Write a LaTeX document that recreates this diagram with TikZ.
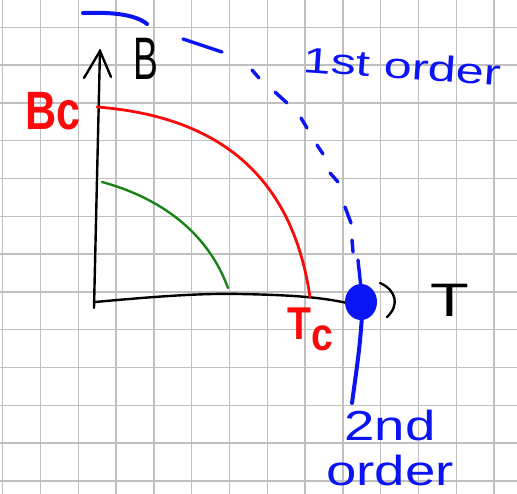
\documentclass[tikz,border=0pt]{standalone}
\usepackage{fontspec}
\setmainfont{Liberation Sans}
\definecolor{penblue}{RGB}{10,20,245}
\definecolor{penred}{RGB}{250,10,10}
\definecolor{pengreen}{RGB}{25,130,25}
\definecolor{gridgray}{RGB}{192,192,192}
\tikzset{
  gridline/.style={draw=gridgray,line width=1.3pt},
  blackpen/.style={draw=black,line width=2.4pt,line cap=round,line join=round},
  redpen/.style={draw=penred,line width=2.8pt,line cap=round},
  greenpen/.style={draw=pengreen,line width=2.4pt,line cap=round},
  bluepen/.style={draw=penblue,line width=3.4pt,line cap=round},
  lbl/.style={inner sep=0pt,anchor=base west},
}
\begin{document}
\begin{tikzpicture}[x=1pt,y=-1pt]
\useasboundingbox (0,0) rectangle (517,494);
\fill[white] (0,0) rectangle (517,494);
% grid
\foreach \i in {0,...,13} \draw[gridline] (2.7+37.8*\i,0) -- ++(0,494);
\foreach \j in {-1,...,12} \draw[gridline] (0,27.3+37.8*\j) -- ++(517,0);
% axes
\draw[blackpen] (94,308) -- (100,50);
\draw[blackpen] (84,78) -- (100,51) -- (111,77);
\draw[blackpen] (95,302) .. controls (150,297) and (200,293) .. (240,294) .. controls (290,295) and (320,297) .. (347,303);
\draw[blackpen] (380,283) .. controls (396,290) and (400,305) .. (387,317);
% curves
\draw[redpen] (97,107) .. controls (200,115) and (290,160) .. (310,297);
\draw[greenpen] (102,182) .. controls (150,195) and (205,225) .. (228,288);
% blue dashed first-order line
\draw[bluepen,line width=4pt] (83,13) .. controls (110,12) and (135,14) .. (147,24);
\draw[bluepen] (183,39) -- (222,52);
\draw[bluepen] (252,70) -- (259,78);
\draw[bluepen] (275,92) -- (287,103);
\draw[bluepen] (301,118) -- (307,128);
\draw[bluepen] (317,145) -- (323,154);
\draw[bluepen] (330,173) -- (338,182);
\draw[bluepen] (345,207) -- (351,223);
\draw[bluepen] (352,240) -- (353,252);
\draw[bluepen] (358,260) -- (361,288);
% second-order line and point
\draw[bluepen,line width=4pt] (362,315) .. controls (360,350) and (355,380) .. (352,403);
\fill[penblue] (361,302) ellipse [x radius=16,y radius=18];
% labels
\node[lbl,font=\fontsize{60}{60}\selectfont,xscale=0.62] (Blab) at (133,80) {B};
\node[lbl,font=\bfseries\fontsize{54}{54}\selectfont,xscale=0.8,text=penred] (Bc) at (25,130) {Bc};
\node[lbl,font=\fontsize{47}{47}\selectfont,xscale=1.35] (Tlab) at (430,317) {T};
\node[lbl,font=\bfseries\fontsize{46}{46}\selectfont,xscale=0.85,text=penred] (Tc) at (287,340) {T\raisebox{-0.22em}{c}};
\node[lbl,font=\fontsize{36}{36}\selectfont,rotate=-4,xscale=1.4,text=penblue] (first) at (302,72) {1st order};
\node[inner sep=0pt,font=\fontsize{42}{45}\selectfont,xscale=1.3,text=penblue,align=center,anchor=north] (second) at (390,410) {2nd\\order};
\end{tikzpicture}
\end{document}
